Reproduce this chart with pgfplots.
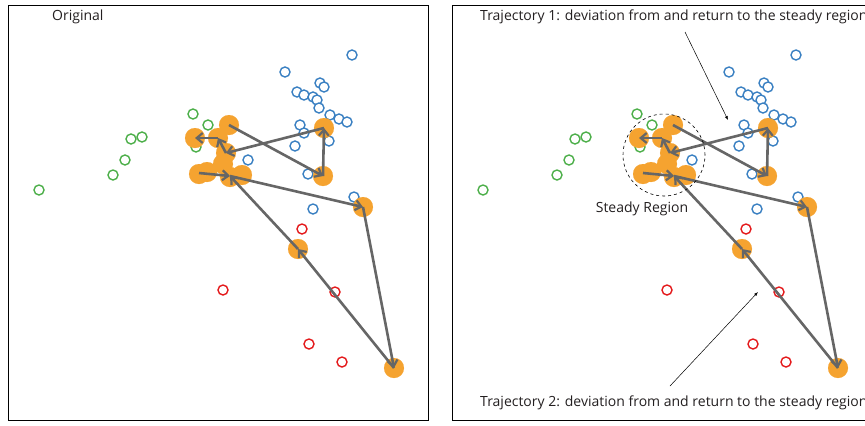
\documentclass[border=0pt]{standalone}
\usepackage{pgfplots}
\pgfplotsset{compat=1.18}
\usepackage{pgfplotstable}
\usepackage{fontspec}
\setmainfont{Open Sans}
\usetikzlibrary{arrows.meta}
\definecolor{cblue}{HTML}{3A80C2}
\definecolor{cgreen}{HTML}{4DAF4A}
\definecolor{cred}{HTML}{E41A1C}
\definecolor{corange}{HTML}{F5A330}
\definecolor{cgray}{HTML}{666666}
\definecolor{ctext}{HTML}{231F20}

\pgfplotstableread{
x y
352 55
285 72
320 83
324 87
297 92
304 95
313 97
317 100
319 108
330 115
339 119
347 122
300 125
304 133
329 141
295 146
248 160
308 174
354 197
313 209
}\bluedata
\pgfplotstableread{
x y
193 114
208 125
142 137
131 139
125 160
113 175
39 190
196 147
}\greendata
\pgfplotstableread{
x y
302 229
223 290
335 292
309 344
342 362
}\reddata
\pgfplotstableread{
x y
229 125
195 138
218 138
226 153
223 164
324 128
323 176
199 174
207 172
230 177
242 175
363 207
298 249
394 368
}\orangedata

\tikzset{lbl/.style={font=\fontsize{14bp}{16bp}\selectfont, text=ctext, inner sep=0pt}}
\pgfplotsset{
  panel/.style={scale only axis, width=420bp, height=415bp,
    xmin=8, xmax=428, ymin=5, ymax=420, y dir=reverse,
    xtick=\empty, ytick=\empty, axis line style={line width=1bp, black},
    clip=false, clip marker paths=true, anchor=north west},
  traj/.style={draw=cgray, line width=2.6bp, no marks,
    -{Straight Barb[length=6bp,width=10bp,line width=2.2bp]}},
}
\newcommand\drawdata{%
  \addplot[only marks, mark=*, mark options={draw=cblue, fill=white, line width=1.4bp}, mark size=5bp] table {\bluedata};
  \addplot[only marks, mark=*, mark options={draw=cgreen, fill=white, line width=1.4bp}, mark size=5bp] table {\greendata};
  \addplot[only marks, mark=*, mark options={draw=cred, fill=white, line width=1.4bp}, mark size=5bp] table {\reddata};
  \addplot[only marks, color=corange, mark=*, mark options={draw=corange, fill=corange, line width=0.1bp}, mark size=10bp] table {\orangedata};
  \addplot[traj] coordinates {(229,125) (323,176)};
  \addplot[traj] coordinates {(323,176) (324,128)};
  \addplot[traj] coordinates {(324,128) (226,153)};
  \addplot[traj] coordinates {(226,153) (218,138)};
  \addplot[traj] coordinates {(218,138) (195,138)};
  \addplot[traj] coordinates {(199,173) (230,176)};
  \addplot[traj] coordinates {(230,176) (363,207)};
  \addplot[traj] coordinates {(363,207) (394,368)};
  \addplot[traj] coordinates {(394,368) (298,249)};
  \addplot[traj] coordinates {(298,249) (230,176)};
}

\begin{document}
\begin{tikzpicture}
\path[use as bounding box] (0,0) rectangle (865bp,-426bp);
\clip (0,0) rectangle (865bp,-426bp);
\begin{axis}[panel, at={(8bp,-5bp)}]
  \drawdata
  \node[lbl, anchor=west] at (axis cs:52,17) {Original};
\end{axis}
\begin{axis}[panel, at={(452bp,-5bp)}]
  \drawdata
  \node[lbl, anchor=west] at (axis cs:36,17) {Trajectory 1: deviation from and return to the steady region};
  \node[lbl, anchor=west] at (axis cs:36,403) {Trajectory 2: deviation from and return to the steady region};
  \node[lbl] at (axis cs:198,209) {Steady Region};
  \draw[black, dashed, line width=0.6bp] (axis cs:220,155) circle[radius=41bp];
  \draw[black, line width=0.5bp, -{Latex[length=4bp,width=3bp]}] (axis cs:241,32) -- (axis cs:284,120);
  \draw[black, line width=0.5bp, -{Latex[length=4bp,width=3bp]}] (axis cs:226,386) -- (axis cs:314,292);
\end{axis}
\end{tikzpicture}
\end{document}
